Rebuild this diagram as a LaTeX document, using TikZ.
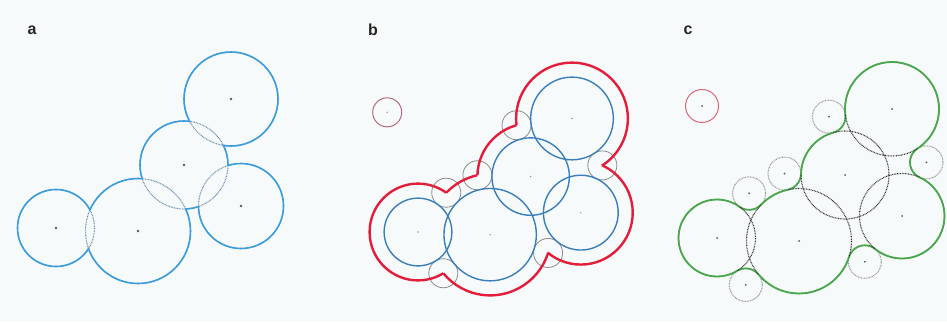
\documentclass[tikz,border=0pt]{standalone}
\usepackage{fontspec}
\setsansfont{Liberation Sans}
\usetikzlibrary{positioning}
\definecolor{paper}{HTML}{F7FAFA}
\definecolor{atomlight}{HTML}{3C9DDE}
\definecolor{atomdark}{HTML}{3A7FBB}
\definecolor{buried}{HTML}{6A8CB0}
\definecolor{sas}{HTML}{E41E3A}
\definecolor{ses}{HTML}{4AA84C}
\definecolor{probe}{HTML}{8C8C8C}
\definecolor{proberim}{HTML}{B86A7C}
\definecolor{probered}{HTML}{E06478}

\begin{document}
\begin{tikzpicture}[x=1pt,y=-1pt,
  lab/.style={font=\sffamily\bfseries\fontsize{16}{16}\selectfont,text=black!85,inner sep=0pt},
  ctr/.style={fill=black!65},
  dots/.style={line width=1.1pt,dash pattern=on 0.8pt off 0.8pt}]
  % atoms x/y/r, probe centres with the two atoms they touch
  \def\atoms{0/0/38.5, 82/3/52.5, 128/-63/44, 175/-129/47, 185/-22/42.5}
  \def\probes{32.1/-44.66/0/0/82/3, 28.76/46.88/0/0/82/3, 67.52/-64.47/82/3/128/-63,
              111.97/-121.34/128/-63/175/-129, 209.48/-75.67/175/-129/185/-22, 147.8/23.8/82/3/185/-22}
  \def\pr{16.5}
  \fill[paper] (0,0) rectangle (947,322);
  \useasboundingbox (0,0) rectangle (947,322);
  \node[lab] (la) at (32,30) {a};
  \node[lab] (lb) at (373,30) {b};
  \node[lab] (lc) at (688,30) {c};

  % a: atoms, buried arcs dotted
  \begin{scope}[shift={(56,228)}]
    \foreach \x/\y/\r in \atoms
      \draw[buried,dots] (\x,\y) circle (\r);
    \foreach \x/\y/\r [count=\i] in \atoms {
      \begin{scope}[even odd rule]
        \foreach \xx/\yy/\rr [count=\j] in \atoms {
          \ifnum\i=\j\relax\else
            \clip (-120,-220) rectangle (320,140) (\xx,\yy) circle (\rr);
          \fi}
        \draw[atomlight,line width=1.6pt] (\x,\y) circle (\r);
      \end{scope}
      \fill[ctr] (\x,\y) circle (1.3);
    }
  \end{scope}

  % b: accessible surface
  \begin{scope}[shift={(418,232)},scale=0.88]
    \foreach \px/\py/\ax/\ay/\bx/\by in \probes
      \draw[probe,line width=0.8pt] (\px,\py) circle (\pr);
    \foreach \x/\y/\r in \atoms {
      \draw[atomdark,line width=1.4pt] (\x,\y) circle (\r);
      \fill[black!40] (\x,\y) circle (0.9);}
    \foreach \x/\y/\r [count=\i] in \atoms {
      \begin{scope}[even odd rule]
        \foreach \xx/\yy/\rr [count=\j] in \atoms {
          \ifnum\i=\j\relax\else
            \clip (-120,-220) rectangle (320,140) (\xx,\yy) circle (\rr+\pr);
          \fi}
        \draw[sas,line width=2.4pt] (\x,\y) circle (\r+\pr);
      \end{scope}}
    \draw[proberim,line width=1pt] (-35,-136) circle (\pr);
    \fill[black!40] (-35,-136) circle (0.9);
  \end{scope}

  % c: excluded surface
  \begin{scope}[shift={(717,238)}]
    \foreach \px/\py/\ax/\ay/\bx/\by in \probes {
      \draw[probe!90,dots] (\px,\py) circle (\pr);
      \fill[ctr] (\px,\py) circle (1);
      \begin{scope}
        \clip (\px,\py) -- (\ax,\ay) -- (\bx,\by) -- cycle;
        \draw[ses,line width=1.8pt] (\px,\py) circle (\pr);
      \end{scope}}
    \foreach \x/\y/\r in \atoms
      \draw[black!80,dots] (\x,\y) circle (\r);
    \foreach \x/\y/\r [count=\i] in \atoms {
      \begin{scope}[even odd rule]
        \foreach \xx/\yy/\rr [count=\j] in \atoms {
          \ifnum\i=\j\relax\else
            \clip (-120,-220) rectangle (320,140) (\xx,\yy) circle (\rr);
          \fi}
        \foreach \px/\py/\ax/\ay/\bx/\by in \probes
          \clip (-120,-220) rectangle (320,140) (\px,\py) -- (\ax,\ay) -- (\bx,\by) -- cycle;
        \clip (-120,-220) rectangle (320,140) (82,3) -- (128,-63) -- (185,-22) -- cycle;
        \clip (-120,-220) rectangle (320,140) (128,-63) -- (175,-129) -- (185,-22) -- cycle;
        \draw[ses,line width=1.8pt] (\x,\y) circle (\r);
      \end{scope}
      \fill[ctr] (\x,\y) circle (1);}
    \draw[probered,line width=1pt] (-15,-132) circle (\pr);
    \fill[ctr] (-15,-132) circle (1);
  \end{scope}
\end{tikzpicture}
\end{document}
